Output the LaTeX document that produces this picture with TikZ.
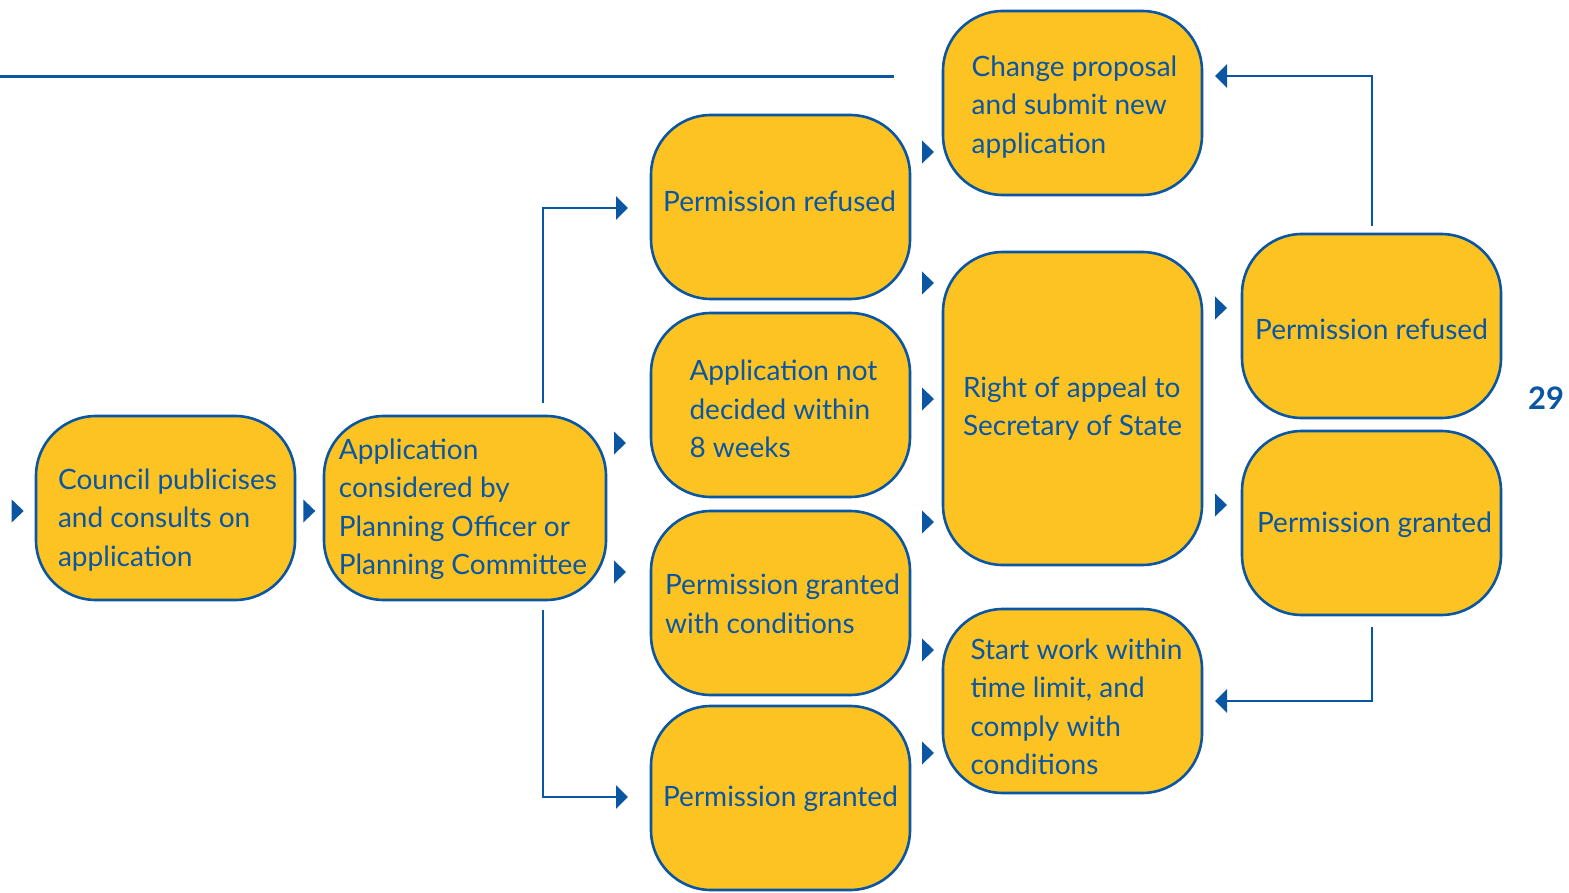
\documentclass[tikz,border=0pt]{standalone}
\usepackage{fontspec}
\setmainfont{Lato}
\usetikzlibrary{arrows.meta,calc}
\definecolor{cblue}{HTML}{0A56A3}
\definecolor{cyel}{HTML}{FCC322}
\begin{document}
\begin{tikzpicture}[x=1pt,y=-1pt,
  box/.style={draw=cblue, line width=2.6pt, fill=cyel, rounded corners=60pt,
    minimum width=259pt, minimum height=184pt, inner sep=0pt},
  lbl/.style={align=left, inner sep=0pt, text=cblue, font=\fontsize{28}{38.5}\selectfont},
  conn/.style={draw=cblue, line width=2.8pt, -{Triangle[length=12pt,width=23pt]}},
  tri/.pic={\fill[cblue] (0,0) -- (-12,11.5) -- (-12,-11.5) -- cycle;}]
\useasboundingbox (0,0) rectangle (1569,893);
% top decorative rule
\coordinate (r0) at (0,76.5);
\coordinate (r1) at (894,76.5);
\draw[cblue, line width=2.8pt] (r0) -- (r1);
% boxes
\node[box] (n1) at (165.5,508) {};
\node[box, minimum width=282pt] (n2) at (465,508) {};
\node[box] (n3) at (780.5,207) {};
\node[box] (n4) at (780.5,405) {};
\node[box] (n5) at (780.5,603) {};
\node[box] (n6) at (780.5,798) {};
\node[box] (n7) at (1072.5,103) {};
\node[box, minimum height=313pt] (n8) at (1072.5,408.5) {};
\node[box] (n9) at (1072.5,701) {};
\node[box] (n10) at (1371.5,326) {};
\node[box] (n11) at (1371.5,523) {};
% texts
\node[lbl] (t1) at ($(n1)+(2,12)$) {Council publicises\\and consults on\\application};
\node[lbl] (t2) at ($(n2)+(-2,1)$) {Application\\considered by\\Planning Officer or\\Planning Committee};
\node[lbl] (t3) at ($(n3)+(-1,-6)$) {Permission refused};
\node[lbl] (t4) at ($(n4)+(3,4)$) {Application not\\decided within\\8 weeks};
\node[lbl] (t5) at ($(n5)+(2,1)$) {Permission granted\\with conditions};
\node[lbl] (t6) at ($(n6)+(0,1)$) {Permission granted};
\node[lbl] (t7) at ($(n7)+(2,4)$) {Change proposal\\and submit new\\application};
\node[lbl] (t8) at ($(n8)+(0,0)$) {Right of appeal to\\Secretary of State};
\node[lbl] (t9) at ($(n9)+(4,6)$) {Start work within\\time limit, and\\comply with\\conditions};
\node[lbl] (t10) at ($(n10)+(0,3)$) {Permission refused};
\node[lbl] (t11) at ($(n11)+(3,2)$) {Permission granted};
\node[text=cblue, inner sep=0pt, font=\fontsize{31}{34}\selectfont\bfseries] (pg) at (1546,398) {29};
% stand-alone arrowheads
\pic at ($(n1.west)+(-11,3)$) {tri};
\pic at ($(n1.east)+(19,3)$) {tri};
\pic at (626,443) {tri};
\pic at (626,572) {tri};
\pic at (934,152) {tri};
\pic at (934,283) {tri};
\pic at (934,399) {tri};
\pic at (934,522) {tri};
\pic at (934,650) {tri};
\pic at (934,753) {tri};
\pic at (1227,308) {tri};
\pic at (1227,505) {tri};
% elbow connectors
\coordinate (a1) at (543,403);
\coordinate (a2) at (543,610);
\coordinate (b1) at (1372,226);
\coordinate (b2) at (1372,627);
\coordinate (e1) at (628,208);
\coordinate (e2) at (628,797);
\coordinate (e3) at (1215,76);
\coordinate (e4) at (1215,701);
\draw[conn] (a1) |- (e1);
\draw[conn] (a2) |- (e2);
\draw[conn] (b1) |- (e3);
\draw[conn] (b2) |- (e4);
\end{tikzpicture}
\end{document}
